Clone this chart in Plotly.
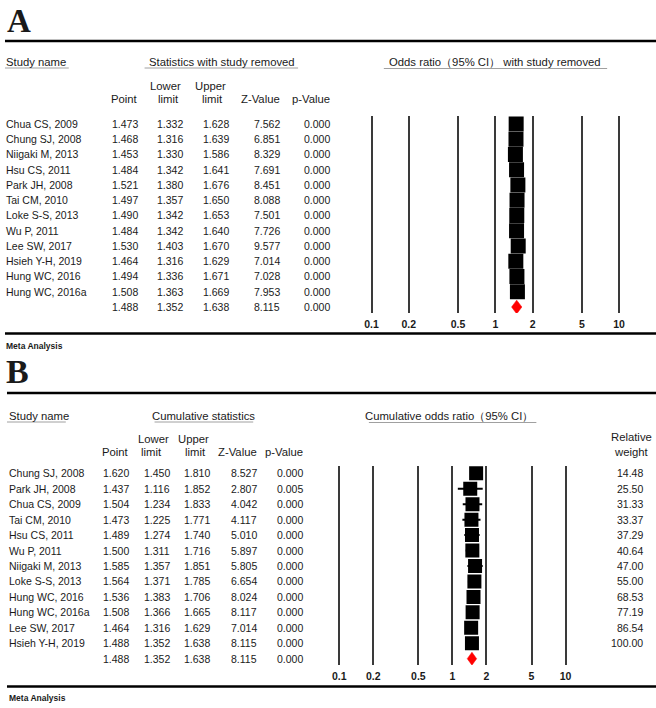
import plotly.graph_objects as go

W, H = 656, 708

# ---------------- Data: panel A (one study removed) ----------------
a_names = ["Chua CS, 2009", "Chung SJ, 2008", "Niigaki M, 2013", "Hsu CS, 2011",
           "Park JH, 2008", "Tai CM, 2010", "Loke S-S, 2013", "Wu P, 2011",
           "Lee SW, 2017", "Hsieh Y-H, 2019", "Hung WC, 2016", "Hung WC, 2016a"]
a_point = [1.473, 1.468, 1.453, 1.484, 1.521, 1.497, 1.490, 1.484, 1.530, 1.464, 1.494, 1.508]
a_lower = [1.332, 1.316, 1.330, 1.342, 1.380, 1.357, 1.342, 1.342, 1.403, 1.316, 1.336, 1.363]
a_upper = [1.628, 1.639, 1.586, 1.641, 1.676, 1.650, 1.653, 1.640, 1.670, 1.629, 1.671, 1.669]
a_z = [7.562, 6.851, 8.329, 7.691, 8.451, 8.088, 7.501, 7.726, 9.577, 7.014, 7.028, 7.953]
a_p = [0.000] * 12
a_summary = [1.488, 1.352, 1.638, 8.115, 0.000]

# ---------------- Data: panel B (cumulative) ----------------
b_names = ["Chung SJ, 2008", "Park JH, 2008", "Chua CS, 2009", "Tai CM, 2010",
           "Hsu CS, 2011", "Wu P, 2011", "Niigaki M, 2013", "Loke S-S, 2013",
           "Hung WC, 2016", "Hung WC, 2016a", "Lee SW, 2017", "Hsieh Y-H, 2019"]
b_point = [1.620, 1.437, 1.504, 1.473, 1.489, 1.500, 1.585, 1.564, 1.536, 1.508, 1.464, 1.488]
b_lower = [1.450, 1.116, 1.234, 1.225, 1.274, 1.311, 1.357, 1.371, 1.383, 1.366, 1.316, 1.352]
b_upper = [1.810, 1.852, 1.833, 1.771, 1.740, 1.716, 1.851, 1.785, 1.706, 1.665, 1.629, 1.638]
b_z = [8.527, 2.807, 4.042, 4.117, 5.010, 5.897, 5.805, 6.654, 8.024, 8.117, 7.014, 8.115]
b_p = [0.000, 0.005, 0.000, 0.000, 0.000, 0.000, 0.000, 0.000, 0.000, 0.000, 0.000, 0.000]
b_weight = [14.48, 25.50, 31.33, 33.37, 37.29, 40.64, 47.00, 55.00, 68.53, 77.19, 86.54, 100.00]
b_summary = [1.488, 1.352, 1.638, 8.115, 0.000]

tick_vals = [0.1, 0.2, 0.5, 1, 2, 5, 10]
tick_text = ["0.1", "0.2", "0.5", "1", "2", "5", "10"]


def X(px):
    return px / W


def Y(py):
    return 1 - py / H


FONT = "Liberation Sans, Arial, sans-serif"
TXT = "#1a1a1a"

fig = go.Figure()
annotations = []
shapes = []


def ann(text, x, y, yref="paper", xanchor="left", size=10.5, bold=False, family=FONT, align="left"):
    if bold:
        text = "<b>" + text + "</b>"
    annotations.append(dict(text=text, x=x, y=y, xref="paper", yref=yref, xanchor=xanchor,
                            yanchor="middle", showarrow=False, align=align,
                            font=dict(family=family, size=size, color=TXT)))


def hline(x0, x1, y, width, color):
    shapes.append(dict(type="line", xref="paper", yref="paper", x0=X(x0), x1=X(x1),
                       y0=Y(y), y1=Y(y), line=dict(color=color, width=width)))


def panel(names, point, lower, upper, z, p, summary, yref, xaxis, yaxis,
          cols, name_x, weights=None):
    n = len(names)
    # whiskers
    wx, wy = [], []
    for i in range(n):
        wx += [lower[i], upper[i], None]
        wy += [i, i, None]
    fig.add_trace(go.Scatter(x=wx, y=wy, mode="lines", line=dict(color="black", width=2),
                             xaxis=xaxis, yaxis=yaxis, hoverinfo="skip", showlegend=False))
    # squares
    fig.add_trace(go.Scatter(x=point, y=list(range(n)), mode="markers",
                             marker=dict(symbol="square", size=cols["sq"], color="black",
                                         line=dict(width=0)),
                             xaxis=xaxis, yaxis=yaxis, showlegend=False))
    # summary diamond
    h = cols["dh"]
    fig.add_trace(go.Scatter(x=[summary[1], summary[0], summary[2], summary[0], summary[1]],
                             y=[n, n - h, n, n + h, n], mode="lines", fill="toself",
                             fillcolor="#ff0000", line=dict(color="#ff0000", width=0.5),
                             xaxis=xaxis, yaxis=yaxis, hoverinfo="skip", showlegend=False))
    # table text
    for i in range(n):
        ann(names[i], X(name_x), i, yref=yref)
        vals = [point[i], lower[i], upper[i], z[i], p[i]]
        for v, cx in zip(vals, cols["x"]):
            ann(f"{v:.3f}", X(cx), i, yref=yref, xanchor="right")
        if weights is not None:
            ann(f"{weights[i]:.2f}", X(cols["w"]), i, yref=yref, xanchor="right")
    for v, cx in zip(summary, cols["x"]):
        ann(f"{v:.3f}", X(cx), n, yref=yref, xanchor="right")


# ---------------- Panel A ----------------
colsA = dict(x=[138, 184, 229.5, 280.5, 331], sq=15, dh=0.45)
panel(a_names, a_point, a_lower, a_upper, a_z, a_p, a_summary, "y", "x", "y", colsA, 2.5)

ann("A", X(3), Y(21), size=33, bold=True, family="Liberation Serif, Times New Roman, serif")
hline(3, 656, 41, 2.6, "black")
ann("Study name", X(2.5), Y(62.5), size=11.3)
hline(3, 67, 68, 1, "#a0a0a0")
ann("Statistics with study removed", X(221), Y(62.5), xanchor="center", size=11.3)
hline(143, 297, 68, 1, "#a0a0a0")
ann("Odds ratio（95% CI） with study removed", X(495), Y(62.5), xanchor="center", size=11.3)
hline(383, 607, 68.5, 1, "#a0a0a0")
ann("Point", X(138), Y(99), xanchor="right", size=11.3)
ann("Lower", X(164), Y(86.5), xanchor="center", size=11.3)
ann("limit", X(167), Y(99), xanchor="center", size=11.3)
ann("Upper", X(209), Y(86.5), xanchor="center", size=11.3)
ann("limit", X(211), Y(99), xanchor="center", size=11.3)
ann("Z-Value", X(280.5), Y(99), xanchor="right", size=11.3)
ann("p-Value", X(331), Y(99), xanchor="right", size=11.3)
hline(3, 656, 333.5, 2.6, "black")
ann("Meta Analysis", X(2.5), Y(345.5), size=8.5, bold=True)

# ---------------- Panel B ----------------
colsB = dict(x=[129.5, 170.5, 211, 258, 304], w=645, sq=14, dh=0.42)
panel(b_names, b_point, b_lower, b_upper, b_z, b_p, b_summary, "y2", "x2", "y2", colsB, 5.5,
      weights=b_weight)

ann("B", X(2), Y(371.5), size=34, bold=True, family="Liberation Serif, Times New Roman, serif")
hline(5, 656, 393, 2.6, "black")
ann("Study name", X(5.5), Y(416), size=11.3)
hline(5, 64, 422, 1, "#a0a0a0")
ann("Cumulative statistics", X(202.5), Y(416), xanchor="center", size=11.3)
hline(153, 252, 422, 1, "#a0a0a0")
ann("Cumulative odds ratio（95% CI）", X(448), Y(416), xanchor="center", size=11.3)
hline(368, 536, 422.5, 1, "#a0a0a0")
ann("Point", X(129.5), Y(451.7), xanchor="right", size=11.3)
ann("Lower", X(151.5), Y(438.5), xanchor="center", size=11.3)
ann("limit", X(149.5), Y(451.7), xanchor="center", size=11.3)
ann("Upper", X(192.5), Y(438.5), xanchor="center", size=11.3)
ann("limit", X(194.5), Y(451.7), xanchor="center", size=11.3)
ann("Z-Value", X(258), Y(451.7), xanchor="right", size=11.3)
ann("p-Value", X(304), Y(451.7), xanchor="right", size=11.3)
ann("Relative<br>weight", X(631), Y(445), xanchor="center", size=11.3, align="center")
hline(5, 656, 686.5, 2.6, "black")
ann("Meta Analysis", X(5), Y(697.5), size=8.5, bold=True)

# ---------------- Axes ----------------
ext = 0.05


def xaxis_cfg(p01, p10):
    dec = (p10 - p01) / 2.0
    left = p01 - ext * dec
    right = p10 + ext * dec
    return dict(type="log", range=[-1 - ext, 1 + ext], domain=[X(left), X(right)],
                tickvals=tick_vals, ticktext=tick_text, showgrid=True, gridcolor="#3a3a3a",
                gridwidth=1.5, zeroline=False, showline=False, ticks="",
                ticklabelstandoff=3,
                tickfont=dict(family=FONT, size=10.5, color=TXT, weight="bold"),
                fixedrange=True)


def yaxis_cfg(top_px, bot_px, row0_px, step):
    r_top = (top_px - row0_px) / step
    r_bot = (bot_px - row0_px) / step
    return dict(range=[r_bot, r_top], domain=[Y(bot_px), Y(top_px)], showgrid=False,
                zeroline=False, showticklabels=False, showline=False, ticks="", fixedrange=True)


fig.update_layout(
    width=W, height=H,
    margin=dict(l=0, r=0, t=0, b=0),
    paper_bgcolor="white", plot_bgcolor="rgba(0,0,0,0)",
    showlegend=False,
    xaxis=xaxis_cfg(370.7, 619.0),
    yaxis=yaxis_cfg(116, 313, 124, 15.25),
    xaxis2=dict(xaxis_cfg(338.3, 565.3), anchor="y2"),
    yaxis2=dict(yaxis_cfg(465.7, 665, 473.3, 15.45), anchor="x2"),
    annotations=annotations,
    shapes=shapes,
)
fig.update_layout(xaxis=dict(anchor="y"), yaxis=dict(anchor="x"))

fig.write_html(
    "out.html",
    config={"displayModeBar": False},
    post_script="document.body.style.margin='0';document.body.style.overflow='hidden';",
)
